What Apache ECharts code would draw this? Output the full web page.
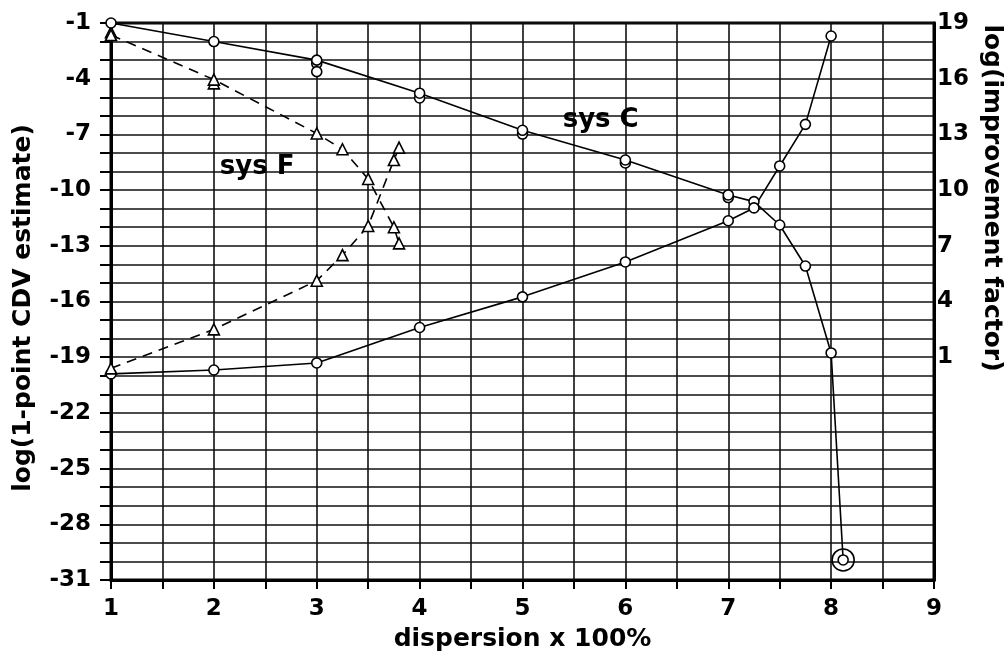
<!DOCTYPE html>
<html><head><meta charset="utf-8">
<script src="https://cdn.jsdelivr.net/npm/echarts@6/dist/echarts.min.js"></script>
<style>html,body{margin:0;padding:0;background:#fff}#c{width:1008px;height:669px}</style>
</head><body><div id="c"></div>
<script>
// ---- data ----
const cDispersion   = [1, 2, 3, 4, 5, 6, 7, 7.25, 7.5, 7.75, 8, 8.117];
const cCdv          = [-1.0, -2.0, -3.0, -4.78, -6.78, -8.38, -10.26, -10.62, -11.88, -14.09, -18.77, -29.92];
const cImpDispersion = [1, 2, 3, 4, 5, 6, 7, 7.25, 7.5, 7.75, 8];
const cImprovement  = [0.10, 0.31, 0.69, 2.6, 4.25, 6.13, 8.35, 9.04, 11.3, 13.54, 18.3];
const cRepeatDispersion = [3, 3, 4, 5, 6, 7];
const cRepeatCdv        = [-3.18, -3.62, -5.04, -6.98, -8.54, -10.4];
const fDispersion   = [1, 2, 3, 3.25, 3.5, 3.75, 3.8];
const fCdv          = [-1.65, -4.05, -6.95, -7.8, -9.4, -12.0, -12.87];
const fImprovement  = [0.4, 2.5, 5.12, 6.5, 8.07, 11.62, 12.29];
const fRepeatDispersion = [1, 2];
const fRepeatCdv        = [-1.5, -4.25];
const outlierDispersion = [8.117];
const outlierCdv        = [-29.92];
const noteText = ['sys C', 'sys F'];
const noteX    = [5.76, 2.42];
const noteY    = [-6.22, -8.75];
const xTitle = 'dispersion x 100%';
const yLeftTitle = 'log(1-point CDV estimate)';
const yRightTitle = 'log(improvement factor)';

const FONT = 'DejaVu Sans';
const zip = (xs, ys) => xs.map((x, i) => [x, ys[i]]);

const chart = echarts.init(document.getElementById('c'), null, {renderer: 'canvas'});
const mark = {color: '#fff', borderColor: '#000', borderWidth: 1.6, opacity: 1};
const lineBase = {type: 'line', symbolSize: 10, itemStyle: mark, z: 5, animation: false};

chart.setOption({
  backgroundColor: '#fff',
  animation: false,
  grid: {left: 111, right: 74, top: 23, bottom: 89, show: true, borderColor: '#000', borderWidth: 3, backgroundColor: 'transparent'},
  xAxis: {
    type: 'value', min: 1, max: 9, interval: 0.5,
    name: xTitle, nameLocation: 'middle', nameGap: 47,
    nameTextStyle: {fontFamily: FONT, fontWeight: 'bold', fontSize: 25, color: '#000'},
    axisLine: {show: true, onZero: false, lineStyle: {color: '#000', width: 3}},
    axisTick: {show: true, length: 9, lineStyle: {color: '#000', width: 2}},
    axisLabel: {margin: 18, fontFamily: FONT, fontWeight: 'bold', fontSize: 23, color: '#000',
      formatter: v => (Math.abs(v - Math.round(v)) < 1e-6 ? String(Math.round(v)) : '')},
    splitLine: {show: true, lineStyle: {color: '#111', width: 1.6}}
  },
  yAxis: [{
    type: 'value', min: -31, max: -1, interval: 1, position: 'left',
    axisLine: {show: true, onZero: false, lineStyle: {color: '#000', width: 3}},
    axisTick: {show: true, length: 11, lineStyle: {color: '#000', width: 2}},
    axisLabel: {margin: 20, fontFamily: FONT, fontWeight: 'bold', fontSize: 23, color: '#000',
      formatter: v => (((-1 - Math.round(v)) % 3 === 0) ? String(Math.round(v)) : '')},
    splitLine: {show: true, lineStyle: {color: '#111', width: 1.6}}
  }, {
    type: 'value', min: -11, max: 19, interval: 1, position: 'right',
    axisLine: {show: true, onZero: false, lineStyle: {color: '#000', width: 3}},
    axisTick: {show: false},
    axisLabel: {margin: 3, fontFamily: FONT, fontWeight: 'bold', fontSize: 23, color: '#000',
      formatter: v => { const r = Math.round(v); return (r >= 1 && (r - 1) % 3 === 0) ? String(r) : ''; }},
    splitLine: {show: false}
  }],
  graphic: [{
    type: 'text', x: 23, y: 308, rotation: Math.PI / 2,
    style: {text: yLeftTitle, font: 'bold 25px "DejaVu Sans"', fill: '#000', align: 'center', verticalAlign: 'middle'}
  }, {
    type: 'text', x: 991, y: 198, rotation: -Math.PI / 2,
    style: {text: yRightTitle, font: 'bold 25px "DejaVu Sans"', fill: '#000', align: 'center', verticalAlign: 'middle'}
  }],
  series: [
    Object.assign({}, lineBase, {name: 'sys C CDV', symbol: 'circle', data: zip(cDispersion, cCdv), lineStyle: {color: '#000', width: 1.6}}),
    Object.assign({}, lineBase, {name: 'sys C improvement', yAxisIndex: 1, symbol: 'circle', data: zip(cImpDispersion, cImprovement), lineStyle: {color: '#000', width: 1.6}}),
    {type: 'scatter', name: 'sys C repeats', symbol: 'circle', symbolSize: 10, data: zip(cRepeatDispersion, cRepeatCdv), itemStyle: mark, z: 4},
    Object.assign({}, lineBase, {name: 'sys F CDV', symbol: 'triangle', symbolSize: 11, data: zip(fDispersion, fCdv), lineStyle: {color: '#000', width: 1.6, type: [10, 7]}}),
    Object.assign({}, lineBase, {name: 'sys F improvement', yAxisIndex: 1, symbol: 'triangle', symbolSize: 11, data: zip(fDispersion, fImprovement), lineStyle: {color: '#000', width: 1.6, type: [10, 7]}}),
    {type: 'scatter', name: 'sys F repeats', symbol: 'triangle', symbolSize: 11, data: zip(fRepeatDispersion, fRepeatCdv), itemStyle: mark, z: 4},
    {type: 'scatter', name: 'outlier ring', symbol: 'circle', symbolSize: 22, data: zip(outlierDispersion, outlierCdv), itemStyle: {color: 'transparent', borderColor: '#000', borderWidth: 1.6, opacity: 1}, z: 6},
    {type: 'scatter', name: 'notes', symbolSize: 1, silent: true,
      data: noteText.map((t, i) => ({value: [noteX[i], noteY[i]], name: t})),
      itemStyle: {color: 'transparent', opacity: 1},
      label: {show: true, position: 'inside', formatter: p => p.name, fontFamily: FONT, fontWeight: 'bold', fontSize: 26, color: '#000', opacity: 1, textBorderWidth: 0}, z: 7}
  ]
});
</script></body></html>
